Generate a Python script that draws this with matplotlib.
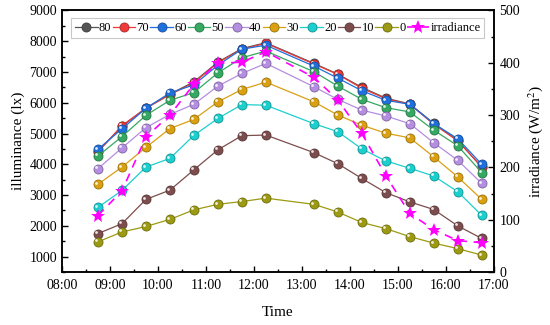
import matplotlib
matplotlib.use("Agg")
import matplotlib.pyplot as plt
import matplotlib.transforms as mtransforms
from matplotlib.ticker import MultipleLocator
import matplotlib.colors as mcolors

times = ["08:45", "09:15", "09:45", "10:15", "10:45", "11:15", "11:45", "12:15",
         "13:15", "13:45", "14:15", "14:45", "15:15", "15:45", "16:15", "16:45"]
tick_labels = ["08:00", "09:00", "10:00", "11:00", "12:00", "13:00", "14:00",
               "15:00", "16:00", "17:00"]

series_names = ["80", "70", "60", "50", "40", "30", "20", "10", "0"]
s80 = [4420, 5230, 5830, 6280, 6680, 7320, 7760, 7950, 7280, 6930, 6500, 6150, 5960, 5330, 4780, 3900]
s70 = [4400, 5260, 5820, 6260, 6650, 7300, 7740, 7930, 7260, 6920, 6470, 6130, 5950, 5300, 4760, 3920]
s60 = [4490, 5150, 5820, 6320, 6580, 7220, 7740, 7870, 7190, 6800, 6390, 6080, 5950, 5320, 4830, 4000]
s50 = [4270, 4900, 5590, 6080, 6330, 6970, 7460, 7680, 7010, 6540, 6110, 5840, 5700, 5110, 4600, 3730]
s40 = [3860, 4530, 5190, 5620, 5950, 6540, 6950, 7280, 6520, 6110, 5760, 5570, 5320, 4700, 4130, 3380]
s30 = [3350, 3910, 4550, 5160, 5460, 6030, 6430, 6670, 6030, 5600, 5270, 5010, 4860, 4240, 3590, 2860]
s20 = [2600, 3150, 3910, 4190, 4940, 5490, 5940, 5920, 5320, 5060, 4500, 4110, 3870, 3620, 3110, 2340]
s10 = [1750, 2070, 2860, 3160, 3820, 4470, 4930, 4950, 4380, 4020, 3540, 3080, 2780, 2530, 2000, 1590]
s0 = [1480, 1800, 1980, 2210, 2520, 2700, 2790, 2900, 2700, 2450, 2110, 1910, 1650, 1440, 1260, 1050]
irradiance = [108, 155, 258, 300, 359, 399, 401, 421, 372, 329, 265, 184, 112, 81, 60, 56]

series_values = [s80, s70, s60, s50, s40, s30, s20, s10, s0]
colors = ["#555555", "#ee3a3a", "#1f6fdc", "#35a862", "#b48ee0", "#d9a012",
          "#1ccfcf", "#7d4d4d", "#9c9a12"]


def to_hours(t):
    h, m = t.split(":")
    return int(h) + int(m) / 60.0


x = [to_hours(t) for t in times]

plt.rcParams["font.family"] = ["Liberation Serif", "DejaVu Serif"]
plt.rcParams["mathtext.fontset"] = "stix"

fig = plt.figure(figsize=(5.5, 3.25), dpi=100)
ax = fig.add_axes([0.1127, 0.163, 0.785, 0.805])
ax2 = ax.twinx()

hl_tr = mtransforms.offset_copy(ax.transData, fig=fig, x=-1.1, y=1.1, units="points")

handles = []
for name, vals, c in zip(series_names, series_values, colors):
    dark = tuple(v * 0.7 for v in mcolors.to_rgb(c))
    ln, = ax.plot(x, vals, color=c, lw=0.9, marker="o", ms=6.5,
                  markerfacecolor=c, markeredgecolor=dark, markeredgewidth=0.6,
                  label=name)
    ax.plot(x, vals, ls="none", marker="o", ms=2.0, color="white", alpha=0.85,
            markeredgewidth=0, transform=hl_tr)
    handles.append(ln)

ln_irr, = ax2.plot(x, irradiance, color="#ff00ff", lw=1.2, ls=(0, (5, 4)),
                   marker="*", ms=10, markeredgewidth=0, label="irradiance")
handles.append(ln_irr)

ax.set_xlim(8, 17)
ax.set_ylim(500, 9000)
ax2.set_ylim(0, 500)

ax.set_xticks([to_hours(t) for t in tick_labels])
ax.set_xticklabels(tick_labels)
ax.xaxis.set_minor_locator(MultipleLocator(0.5))
ax.yaxis.set_major_locator(MultipleLocator(1000))
ax.yaxis.set_minor_locator(MultipleLocator(500))
ax2.yaxis.set_major_locator(MultipleLocator(100))
ax2.yaxis.set_minor_locator(MultipleLocator(50))

for a in (ax, ax2):
    a.tick_params(which="major", direction="in", length=4, width=1, labelsize=10)
    a.tick_params(which="minor", direction="in", length=2.5, width=1)
    for sp in a.spines.values():
        sp.set_linewidth(1.1)
ax.tick_params(axis="x", which="both", top=False, pad=5)
ax2.tick_params(axis="y", pad=4)

ax.set_xlabel("Time", fontsize=11, labelpad=10)
ax.set_ylabel("illuminance (lx)", fontsize=11, labelpad=3)
ax2.set_ylabel("irradiance (W/m$^2$)", fontsize=11, labelpad=4)

leg = ax2.legend(handles=handles, loc="upper center", bbox_to_anchor=(0.5, 0.98),
                 ncol=10, fontsize=9, frameon=True, fancybox=False,
                 handlelength=1.8, handletextpad=0.1, columnspacing=0.1,
                 borderpad=0.3, borderaxespad=0.2)
leg.get_frame().set_edgecolor("#bbbbbb")
leg.get_frame().set_linewidth(0.8)

fig.savefig("out.png", dpi=100)
